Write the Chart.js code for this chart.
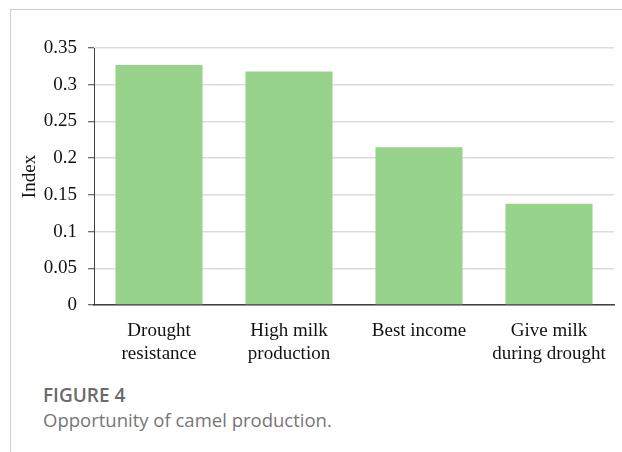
<!DOCTYPE html>
<html>
<head>
<meta charset="utf-8">
<script src="https://cdn.jsdelivr.net/npm/chart.js@4.4.1/dist/chart.umd.min.js"></script>
<style>
  html, body { margin: 0; padding: 0; background: #fff; }
  body { width: 622px; height: 452px; position: relative; overflow: hidden; }
  .marco {
    position: absolute; left: 10px; top: 9px; right: 0; bottom: 0;
    border-top: 1px solid #cfcfcf; border-left: 1px solid #cfcfcf;
  }
  .grafico { position: absolute; left: 0; top: 0; width: 622px; height: 372px; }
  .pie { position: absolute; left: 43px; font-family: 'Open Sans', sans-serif; white-space: nowrap; }
  .pie.num { top: 382px; font-size: 19px; font-weight: 600; color: #6b6b6b; }
  .pie.txt { top: 407px; font-size: 18.5px; color: #767676; }
</style>
</head>
<body>
<div class="marco"></div>
<div class="grafico"><canvas id="barChart"></canvas></div>
<div class="pie num">FIGURE 4</div>
<div class="pie txt">Opportunity of camel production.</div>
<script>
const categorias = [
    ['Drought', 'resistance'],
    ['High milk', 'production'],
    ['Best income'],
    ['Give milk', 'during drought']
];
const valores = [0.327, 0.318, 0.215, 0.138];
const ticksY = [0, 0.05, 0.1, 0.15, 0.2, 0.25, 0.3, 0.35];

const fuenteSerif = "'Liberation Serif', 'Times New Roman', serif";

new Chart(document.getElementById('barChart').getContext('2d'), {
    type: 'bar',
    data: {
        labels: categorias,
        datasets: [{
            label: 'Index',
            data: valores,
            backgroundColor: '#97d38b',
            borderWidth: 0,
            categoryPercentage: 0.67,
            barPercentage: 1
        }]
    },
    options: {
        responsive: true,
        maintainAspectRatio: false,
        animation: false,
        layout: { padding: { left: 0, right: 8, top: 48, bottom: 0 } },
        plugins: { legend: { display: false }, tooltip: { enabled: false } },
        scales: {
            x: {
                afterFit: axis => { axis.height = 67; },
                grid: { display: false },
                border: { color: '#404040', width: 1.5 },
                ticks: {
                    color: '#111',
                    font: { family: fuenteSerif, size: 19, lineHeight: 1.2 },
                    padding: 7,
                    maxRotation: 0
                }
            },
            y: {
                min: 0,
                max: 0.35,
                afterFit: axis => { axis.width = 94; },
                afterBuildTicks: axis => { axis.ticks = ticksY.map(v => ({ value: v })); },
                grid: { color: '#dcdcdc', lineWidth: 1.5, tickColor: '#404040', tickLength: 6, tickWidth: 1 },
                border: { color: '#404040', width: 1 },
                ticks: {
                    color: '#111',
                    font: { family: fuenteSerif, size: 19 },
                    padding: 11,
                    callback: v => String(v)
                },
                title: {
                    display: true,
                    text: 'Index',
                    color: '#111',
                    font: { family: fuenteSerif, size: 19 },
                    padding: { top: 19, bottom: 4 }
                }
            }
        }
    }
});
</script>
</body>
</html>
